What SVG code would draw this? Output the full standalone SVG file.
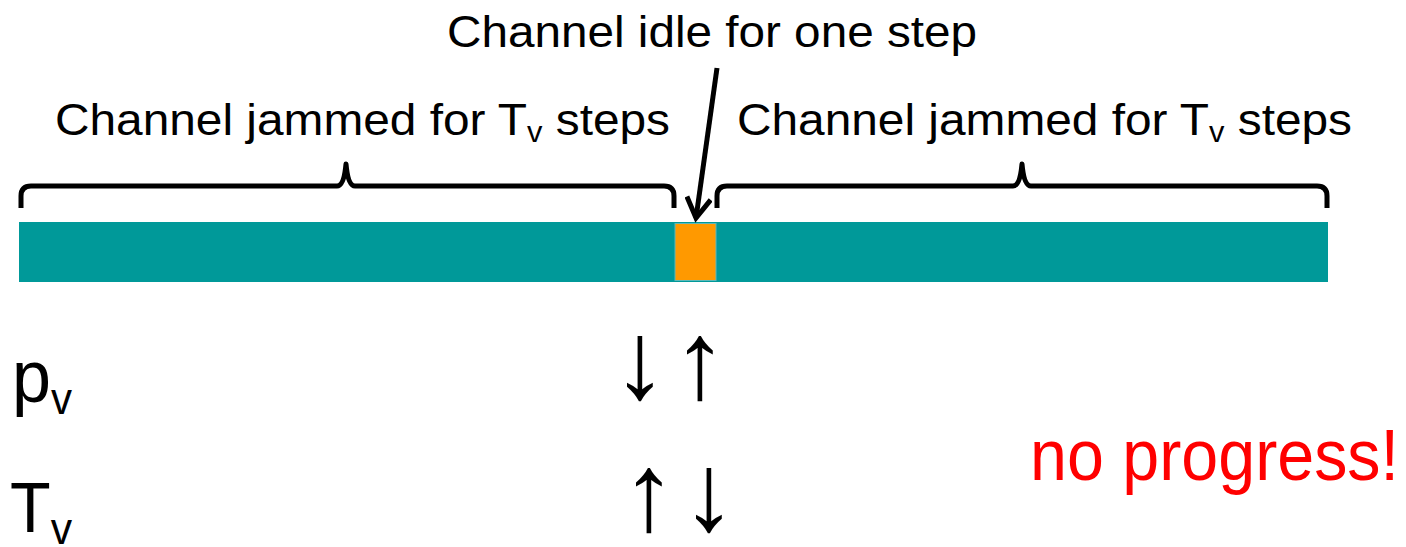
<svg xmlns="http://www.w3.org/2000/svg" width="1406" height="547" viewBox="0 0 1406 547">
  <defs>
    <style>
      .lbl { font-family: "Liberation Sans", Arial, sans-serif; fill: #000; }
      .sym { font-family: "Liberation Sans", Arial, sans-serif; fill: #000; text-anchor: middle; font-size: 110px; }
      .brace { fill: none; stroke: #000; stroke-width: 5; stroke-linejoin: round; }
      .jam { fill: #009999; }
      .idle { fill: #FF9900; stroke: #5fb8b8; stroke-width: 1; }
    </style>
    <marker id="head" viewBox="0 0 28 28" refX="22" refY="14" markerWidth="28" markerHeight="28" markerUnits="userSpaceOnUse" orient="auto">
      <path d="M2,2 L22,14 L2,26" fill="none" stroke="#000" stroke-width="5" stroke-linejoin="miter"/>
    </marker>
  </defs>
  <rect width="1406" height="547" fill="#fff"/>

  <!-- channel timeline -->
  <g id="timeline">
    <rect class="jam" x="19" y="222" width="1309" height="60"/>
    <rect class="idle" x="675" y="223.5" width="41" height="57"/>
  </g>

  <g id="brace-left">
    <path class="brace" d="M21,208 V196 Q21,186 31,186 H337 Q344,186 346,164 Q348,186 355,186 H664 Q674,186 674,196 V208"/>
    <text class="lbl" x="55" y="135" font-size="45" textLength="615" lengthAdjust="spacingAndGlyphs">Channel jammed for T<tspan font-size="29" dy="7">v</tspan><tspan dy="-7"> steps</tspan></text>
  </g>

  <g id="brace-right">
    <path class="brace" d="M717,208 V196 Q717,186 727,186 H1013 Q1020,186 1022,164 Q1024,186 1031,186 H1317 Q1327,186 1327,196 V208"/>
    <text class="lbl" x="737" y="135" font-size="45" textLength="615" lengthAdjust="spacingAndGlyphs">Channel jammed for T<tspan font-size="29" dy="7">v</tspan><tspan dy="-7"> steps</tspan></text>
  </g>

  <g id="idle-label">
    <text class="lbl" x="447" y="47" font-size="45" textLength="530" lengthAdjust="spacingAndGlyphs">Channel idle for one step</text>
  </g>

  <g id="connectors">
    <line x1="717" y1="68" x2="696" y2="218" stroke="#000" stroke-width="5" marker-end="url(#head)"/>
  </g>

  <g id="p-row">
    <text class="lbl" x="12" y="402" font-size="75" textLength="60" lengthAdjust="spacingAndGlyphs">p<tspan font-size="45" dy="12">v</tspan></text>
    <text class="sym" x="640" y="398">↓</text>
    <text class="sym" x="700" y="398">↑</text>
  </g>

  <g id="t-row">
    <text class="lbl" x="10" y="532" font-size="70" textLength="62" lengthAdjust="spacingAndGlyphs">T<tspan font-size="45" dy="12">v</tspan></text>
    <text class="sym" x="649" y="530">↑</text>
    <text class="sym" x="709" y="530">↓</text>
  </g>

  <g id="verdict">
    <text x="1030" y="480" font-size="72" fill="#ff0000" font-family="Liberation Sans, Arial, sans-serif" textLength="369" lengthAdjust="spacingAndGlyphs">no progress!</text>
  </g>
</svg>
